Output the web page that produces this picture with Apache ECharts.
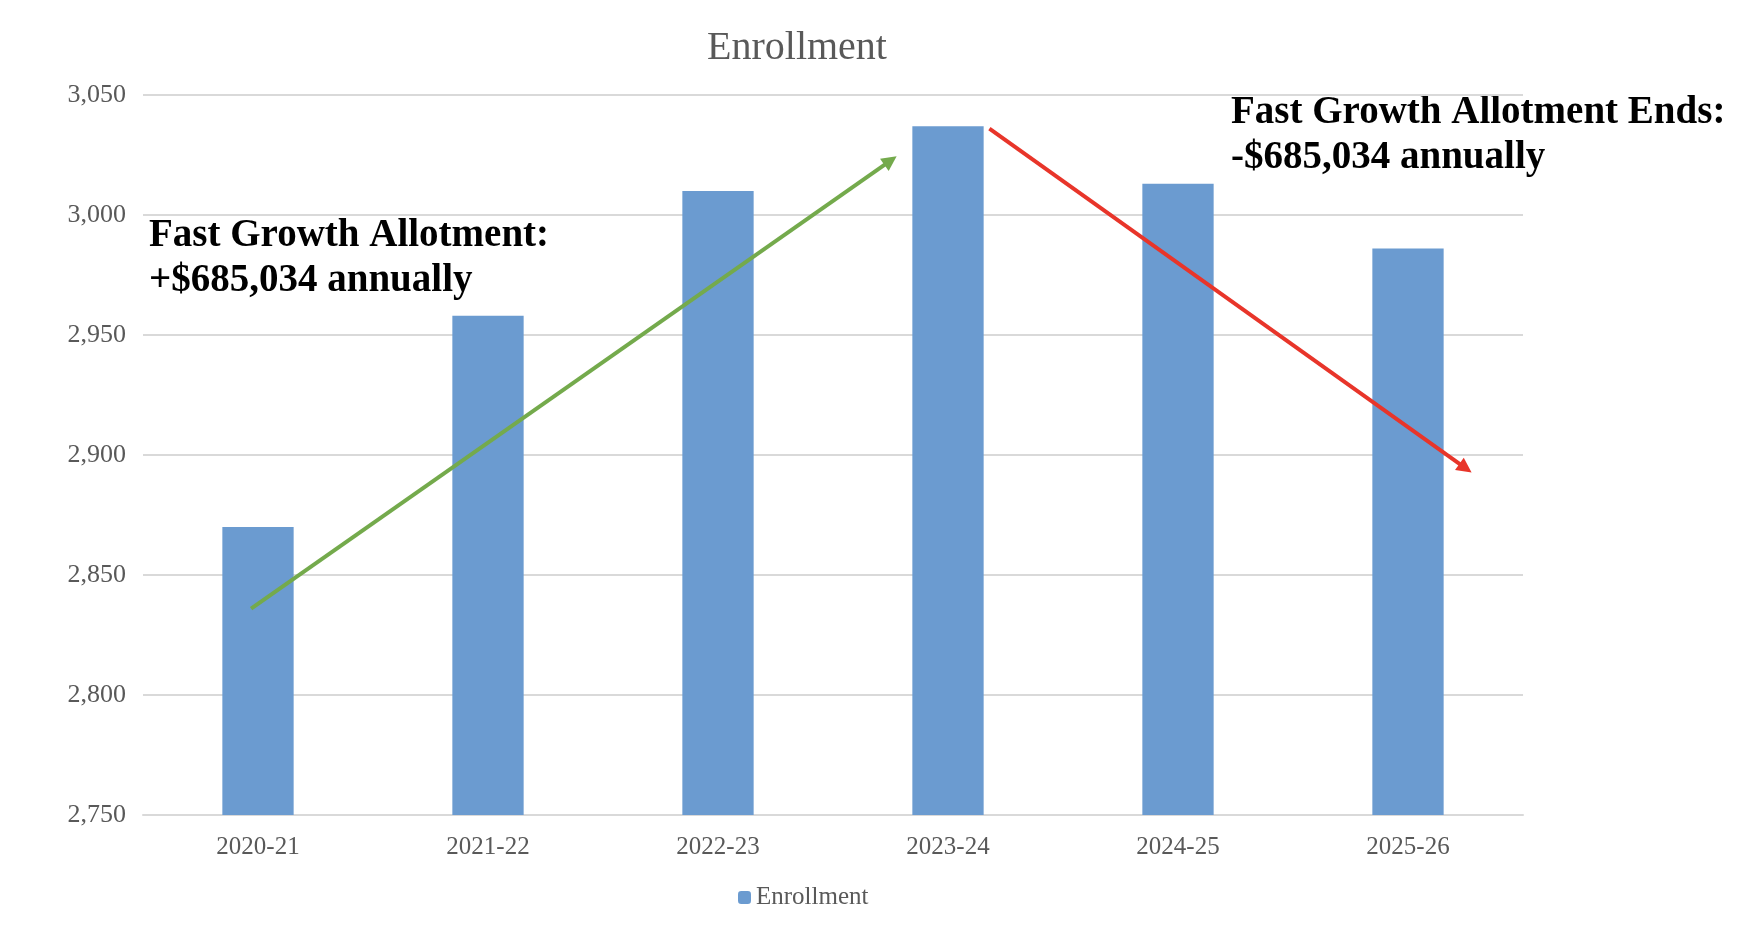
<!DOCTYPE html>
<html>
<head>
<meta charset="utf-8">
<script src="https://cdn.jsdelivr.net/npm/echarts@6/dist/echarts.min.js"></script>
<style>
  html, body { margin: 0; padding: 0; background: #fff; }
  #main { width: 1756px; height: 942px; }
</style>
</head>
<body>
<div id="main"></div>
<script>
// data
var years = ["2020-21", "2021-22", "2022-23", "2023-24", "2024-25", "2025-26"];
var enrollment = [2870, 2958, 3010, 3037, 3013, 2986];
var yTicks = [2750, 2800, 2850, 2900, 2950, 3000, 3050];
// arrow ends: [category position, enrollment value]
var growthArrow = [[-0.03, 2836], [2.75, 3022.7]];
var endsArrow = [[3.18, 3036], [5.25, 2894.5]];
var growthText = "Fast Growth Allotment:\n+$685,034 annually";
var endsText = "Fast Growth Allotment Ends:\n-$685,034 annually";

(function () {
    var mychart = echarts.init(document.getElementById("main"));
    var serif = "'Liberation Serif', 'Times New Roman', serif";

    function arrow(name, pts, color) {
        return {
            name: name,
            type: 'line',
            xAxisIndex: 1,
            data: [],
            silent: true,
            markLine: {
                silent: true,
                symbol: ['none', 'triangle'],
                symbolSize: 15,
                label: { show: false },
                lineStyle: { color: color, width: 4, type: 'solid' },
                itemStyle: { color: color },
                emphasis: { disabled: true },
                data: [[{ coord: pts[0] }, { coord: pts[1] }]]
            }
        };
    }

    var option = {
        animation: false,
        grid: { left: 143, right: 233, top: 95, bottom: 127 },
        legend: {
            data: ['Enrollment'],
            left: 733,
            top: 880,
            itemWidth: 13,
            itemHeight: 13,
            itemGap: 6,
            textStyle: { fontFamily: serif, fontSize: 25, color: '#595959' }
        },
        xAxis: [{
            type: 'category',
            data: years,
            axisTick: { show: false },
            axisLine: { lineStyle: { color: '#d9d9d9', width: 2 } },
            axisLabel: { margin: 20, fontFamily: serif, fontSize: 25, color: '#595959' }
        }, {
            type: 'value',
            min: -0.5,
            max: 5.5,
            show: false
        }],
        yAxis: {
            type: 'value',
            min: yTicks[0],
            max: yTicks[yTicks.length - 1],
            interval: 50,
            axisLine: { show: false },
            axisTick: { show: false },
            axisLabel: {
                margin: 17,
                fontFamily: serif,
                fontSize: 26,
                color: '#595959',
                formatter: function (v) { return v.toLocaleString('en-US'); }
            },
            splitLine: { lineStyle: { color: '#d9d9d9', width: 2 } }
        },
        series: [{
            name: 'Enrollment',
            type: 'bar',
            data: enrollment,
            barWidth: '31%',
            itemStyle: { color: '#6b9bd0' }
        },
        arrow('growth', growthArrow, '#74aa4c'),
        arrow('ends', endsArrow, '#e8352a')],
        graphic: [{
            type: 'text',
            x: 797,
            y: 28,
            style: {
                text: 'Enrollment',
                align: 'center',
                verticalAlign: 'top',
                font: '40px ' + serif,
                fill: '#595959'
            }
        }, {
            type: 'text',
            x: 149,
            y: 213,
            style: {
                text: growthText,
                font: 'bold 39px ' + serif,
                lineHeight: 45,
                fill: '#000'
            }
        }, {
            type: 'text',
            x: 1231,
            y: 90,
            style: {
                text: endsText,
                font: 'bold 39px ' + serif,
                lineHeight: 45,
                fill: '#000'
            }
        }]
    };
    mychart.setOption(option);
})();
</script>
</body>
</html>
